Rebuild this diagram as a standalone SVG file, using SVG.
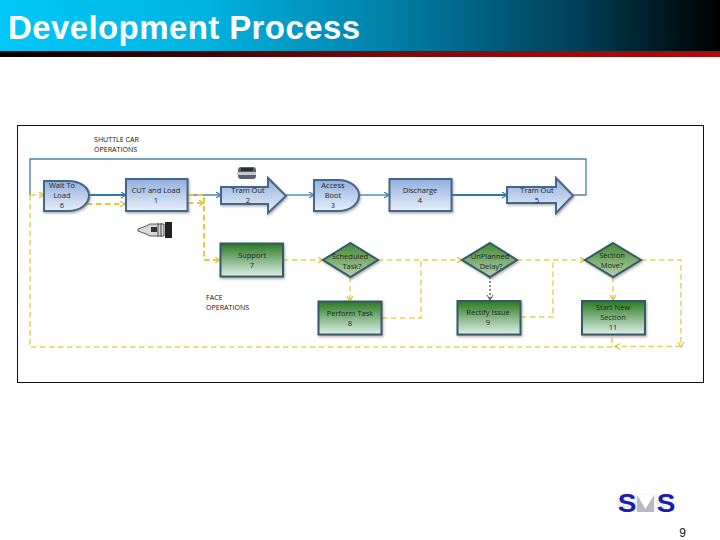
<svg xmlns="http://www.w3.org/2000/svg" width="720" height="540" viewBox="0 0 720 540">
<style>
text{font-family:"Liberation Sans",Arial,sans-serif}
.t{font-family:"Open Sans","Liberation Sans",sans-serif;font-size:7.5px;fill:#222;text-anchor:middle}
.l{font-family:"Open Sans","Liberation Sans",sans-serif;font-size:7.1px;fill:#111}
.b{fill:url(#blue);stroke:#44668c;stroke-width:2;filter:url(#sh)}
.g{fill:url(#green);stroke:#34586a;stroke-width:2;filter:url(#sh)}
.d{fill:url(#dia);stroke:#34586a;stroke-width:2;filter:url(#sh)}
.c{fill:none;stroke:#4a86ac;stroke-width:1.4}
.ct{fill:none;stroke:#2f78a4;stroke-width:2}
.y{fill:none;stroke:#e8cf56;stroke-width:1.5;stroke-dasharray:5.5 3.5}
.yt{fill:none;stroke:#e6c93a;stroke-width:2;stroke-dasharray:5.5 3.5}
</style>
<defs>
<linearGradient id="hdr" x1="0" x2="1" y1="0" y2="0"><stop offset="0" stop-color="#00c8f8"/><stop offset=".28" stop-color="#00b4e0"/><stop offset=".55" stop-color="#007ea6"/><stop offset=".8" stop-color="#004058"/><stop offset="1" stop-color="#000"/></linearGradient>
<linearGradient id="bar" x1="0" x2="1" y1="0" y2="0"><stop offset="0" stop-color="#000"/><stop offset=".55" stop-color="#800808"/><stop offset="1" stop-color="#b00c0c"/></linearGradient>
<linearGradient id="blue" x1="0" x2="0" y1="0" y2="1"><stop offset="0" stop-color="#8fb0dc"/><stop offset="1" stop-color="#e8eff9"/></linearGradient>
<linearGradient id="green" x1="0" x2="0" y1="0" y2="1"><stop offset="0" stop-color="#2a7a20"/><stop offset="1" stop-color="#e0f0ea"/></linearGradient>
<linearGradient id="dia" x1="0" x2="0" y1="0" y2="1"><stop offset="0" stop-color="#3f8a30"/><stop offset="1" stop-color="#b4d0ac"/></linearGradient>
<filter id="sh" x="-10%" y="-10%" width="125%" height="130%"><feDropShadow dx="1" dy="1.5" stdDeviation="1" flood-color="#777" flood-opacity=".6"/></filter>
<marker id="ab" markerWidth="8" markerHeight="8" refX="6" refY="3.5" orient="auto" markerUnits="userSpaceOnUse"><path d="M1 .5L6 3.5L1 6.500" fill="none" stroke="#2f78a4" stroke-width="1.1"/></marker>
<marker id="ay" markerWidth="8" markerHeight="8" refX="6" refY="3.5" orient="auto" markerUnits="userSpaceOnUse"><path d="M1 .5L6 3.5L1 6.500" fill="none" stroke="#e0bf30" stroke-width="1.2"/></marker>
<marker id="ak" markerWidth="8" markerHeight="8" refX="6" refY="3.5" orient="auto" markerUnits="userSpaceOnUse"><path d="M1 .5L6 3.5L1 6.500" fill="none" stroke="#444" stroke-width=".9"/></marker>
</defs>
<rect width="720" height="540" fill="#fff"/>
<g id="header">
<rect width="720" height="51" fill="url(#hdr)"/>
<rect y="51" width="720" height="6" fill="url(#bar)"/>
<text x="8" y="39" font-size="33" font-weight="bold" fill="#fff" textLength="352" lengthAdjust="spacing">Development Process</text>
</g>
<rect id="frame" x="17.500" y="125.500" width="686" height="257" fill="#fff" stroke="#111" stroke-width="1"/>
<g id="connectors">
<path class="c" d="M573 195H586V159H30V195"/>
<path class="y" d="M30 195V347H612V335"/>
<path class="y" marker-end="url(#ay)" d="M30 195H44"/>
<path class="ct" marker-end="url(#ab)" d="M89 195H126"/>
<path class="yt" marker-end="url(#ay)" d="M87 204H125"/>
<path class="c" marker-end="url(#ab)" d="M188 195H221"/>
<path class="yt" d="M188 195H204V260"/>
<path class="yt" marker-end="url(#ay)" d="M188 203H204"/>
<path class="yt" marker-end="url(#ay)" d="M204 260H220"/>
<path class="c" marker-end="url(#ab)" d="M286 195H314"/>
<path class="c" marker-end="url(#ab)" d="M359 195H389"/>
<path class="ct" marker-end="url(#ab)" d="M452 195H507"/>
<path class="y" marker-end="url(#ay)" d="M283 260H323"/>
<path class="y" marker-end="url(#ay)" d="M378 260H462"/>
<path class="y" marker-end="url(#ay)" d="M350 277V301"/>
<path class="y" d="M382 318H421V260"/>
<path class="y" marker-end="url(#ay)" d="M517 260H585"/>
<path class="y" d="M521 317H553V260"/>
<path fill="none" stroke="#222" stroke-width="1" stroke-dasharray="2 2" marker-end="url(#ak)" d="M490 277V300"/>
<path class="y" marker-end="url(#ay)" d="M613 277V300"/>
<path class="y" marker-end="url(#ay)" d="M641 260H681V347"/>
<path class="y" marker-end="url(#ay)" d="M681 346.500H615"/>
</g>
<g id="label-shuttle"><text class="l" x="94" y="142">SHUTTLE CAR</text><text class="l" x="94" y="152">OPERATIONS</text></g>
<g id="label-face"><text class="l" x="206" y="300">FACE</text><text class="l" x="206" y="310">OPERATIONS</text></g>
<g id="n6"><path class="b" d="M44 181H68C80 181 89 187 89 195.500C89 204 80 211 68 211H44Z"/><text class="t" x="62" y="188">Wait To</text><text class="t" x="62" y="198">Load</text><text class="t" x="62" y="208">6</text></g>
<g id="n1"><rect class="b" x="126" y="179" width="61.500" height="32"/><text class="t" x="156" y="193">CUT and Load</text><text class="t" x="156" y="203">1</text></g>
<g id="n2"><path class="b" d="M221 187H268V178L286 196L268 213V204H221Z"/><text class="t" x="248" y="193">Tram Out</text><text class="t" x="248" y="203">2</text></g>
<g id="n3"><path class="b" d="M314 180H338C350 180 359 187 359 195.500C359 204 350 211 338 211H314Z"/><text class="t" x="333" y="188">Access</text><text class="t" x="333" y="198">Boot</text><text class="t" x="333" y="208">3</text></g>
<g id="n4"><rect class="b" x="389.500" y="179" width="62" height="32"/><text class="t" x="420" y="193">Discharge</text><text class="t" x="420" y="203">4</text></g>
<g id="n5"><path class="b" d="M507 187H556V178L573 195.500L556 213V203H507Z"/><text class="t" x="537" y="193">Tram Out</text><text class="t" x="537" y="203">5</text></g>
<g id="n7"><rect class="g" x="220.500" y="243.500" width="62.500" height="33"/><text class="t" x="252" y="258">Support</text><text class="t" x="252" y="268">7</text></g>
<g id="d-scheduled"><path class="d" d="M350.500 243L378 260L350.500 277L323 260Z"/><text class="t" x="350" y="259">Scheduled</text><text class="t" x="352" y="269">Task?</text></g>
<g id="n8"><rect class="g" x="318.500" y="301.500" width="63" height="33"/><text class="t" x="350" y="316">Perform Task</text><text class="t" x="350" y="326">8</text></g>
<g id="d-unplanned"><path class="d" d="M490 243L517 260L490 277L462 260Z"/><text class="t" x="490" y="259">UnPlanned</text><text class="t" x="491" y="269">Delay?</text></g>
<g id="n9"><rect class="g" x="457.500" y="301" width="63" height="33.500"/><text class="t" x="488" y="315">Rectify Issue</text><text class="t" x="488" y="325">9</text></g>
<g id="d-section"><path class="d" d="M613 243L641 260L613 277L585 260Z"/><text class="t" x="612" y="258">Section</text><text class="t" x="612" y="268">Move?</text></g>
<g id="n11"><rect class="g" x="582" y="301" width="63" height="33.500"/><text class="t" x="613" y="310">Start New</text><text class="t" x="613" y="320">Section</text><text class="t" x="613" y="330">11</text></g>
<g id="icon-car">
<path d="M238 170Q238 167 241 167H253Q256 167 256 170V176Q256 179 253 179H241Q238 179 238 176Z" fill="#5c6268"/>
<rect x="237" y="172" width="19" height="3" fill="#c4c8cc"/>
<rect x="241" y="168" width="12" height="3" fill="#2a2e34"/>
</g>
<g id="icon-miner">
<rect x="165" y="222" width="7" height="16" fill="#222"/>
<path d="M138 229L146 226L150 224H164V236H150L146 234L138 231Z" fill="#d8d8d8" stroke="#333" stroke-width=".8"/>
<rect x="151" y="227" width="6" height="5" fill="#333"/>
<path d="M158 223V237M161 223V237" stroke="#444" stroke-width="1"/>
</g>
<g id="logo">
<ellipse cx="646" cy="503" rx="30" ry="9" fill="#f4f4f8"/>
<rect x="637" y="495" width="17" height="17" fill="#b9b9c0"/>
<path d="M637 495L645.500 509L654 495Z" fill="#fff"/>
<text x="627" y="512" font-size="25" font-weight="bold" fill="#1c1caa" text-anchor="middle" transform="translate(627 0) scale(1.120 1) translate(-627 0)">S</text>
<text x="666" y="512" font-size="25" font-weight="bold" fill="#1c1caa" text-anchor="middle" transform="translate(666 0) scale(1.120 1) translate(-666 0)">S</text>
</g>
<text id="page" x="682.500" y="537" font-size="12" fill="#222" text-anchor="middle">9</text>
</svg>
